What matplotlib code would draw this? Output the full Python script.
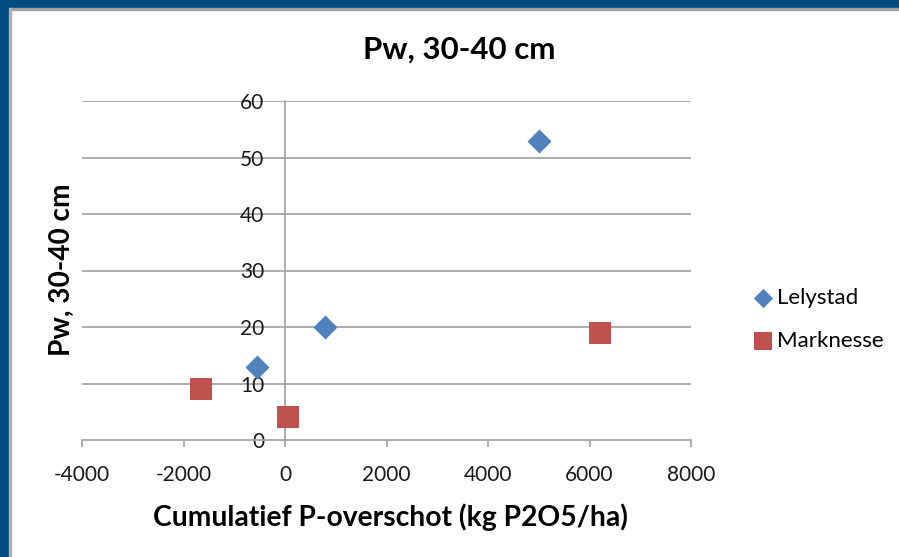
import matplotlib
matplotlib.use('Agg')
import matplotlib.pyplot as plt
from matplotlib.patches import Rectangle

plt.rcParams['font.family'] = ['Lato', 'DejaVu Sans']
plt.rcParams['axes.unicode_minus'] = False

# data
lelystad_x = [-550, 780, 5000]
lelystad_y = [13, 20, 53]
marknesse_x = [-1650, 60, 6200]
marknesse_y = [9, 4, 19]
x_ticks = [-4000, -2000, 0, 2000, 4000, 6000, 8000]
y_ticks = [0, 10, 20, 30, 40, 50, 60]

title = 'Pw, 30-40 cm'
xlabel = 'Cumulatief P-overschot (kg P2O5/ha)'
ylabel = 'Pw, 30-40 cm'

fig = plt.figure(figsize=(8.99, 5.57), dpi=100)
ax = fig.add_axes([82/899, 1-440/557, (691-82)/899, (440-101)/557])

grid_c = '#A6A6A6'
for v in y_ticks[1:]:
    ax.axhline(v, color=grid_c, lw=1.3, zorder=1)

ax.scatter(lelystad_x, lelystad_y, marker='D', s=150, color='#4F81BD',
           label='Lelystad', zorder=3, linewidths=0)
ax.scatter(marknesse_x, marknesse_y, marker='s', s=260, color='#C0504D',
           label='Marknesse', zorder=3, linewidths=0)

ax.set_xlim(-4000, 8000)
ax.set_ylim(0, 60)
ax.set_xticks(x_ticks)
ax.set_yticks(y_ticks)

for s in ['top', 'right']:
    ax.spines[s].set_visible(False)
ax.spines['left'].set_position(('data', 0))
ax.spines['left'].set_color(grid_c)
ax.spines['left'].set_linewidth(1.3)
ax.spines['bottom'].set_color(grid_c)
ax.spines['bottom'].set_linewidth(1.3)

ax.tick_params(axis='y', length=0, pad=15, labelsize=15, labelcolor='#1a1a1a')
ax.tick_params(axis='x', length=5, width=1.3, color=grid_c, pad=13,
               labelsize=15, labelcolor='#1a1a1a')

fig.text(459/899, 1-50/557, title, ha='center', va='center',
         fontsize=22.5, fontweight='bold')
fig.text(390/899, 1-517/557, xlabel, ha='center', va='center',
         fontsize=20.3, fontweight='bold')
fig.text(62/899, 1-270/557, ylabel, ha='center', va='center',
         fontsize=20.2, fontweight='bold', rotation=90)

fig.legend(loc='upper left', bbox_to_anchor=(743/899, 1-279/557),
           frameon=False, fontsize=16, handletextpad=0.15, handlelength=1.0,
           labelspacing=1.05, markerscale=0.8, borderaxespad=0)

# window frame
fig.patches.append(Rectangle((0, 1-8/557), 1, 8/557, transform=fig.transFigure,
                             color='#004D80', zorder=10))
fig.patches.append(Rectangle((0, 1-10/557), 1, 2/557, transform=fig.transFigure,
                             color='#A0A0A0', zorder=10))
fig.patches.append(Rectangle((0, 0), 9/899, 1, transform=fig.transFigure,
                             color='#004D80', zorder=10))
fig.patches.append(Rectangle((9/899, 0), 2/899, 1-8/557, transform=fig.transFigure,
                             color='#B0B0B0', zorder=10))

fig.savefig('out.png', dpi=100)
